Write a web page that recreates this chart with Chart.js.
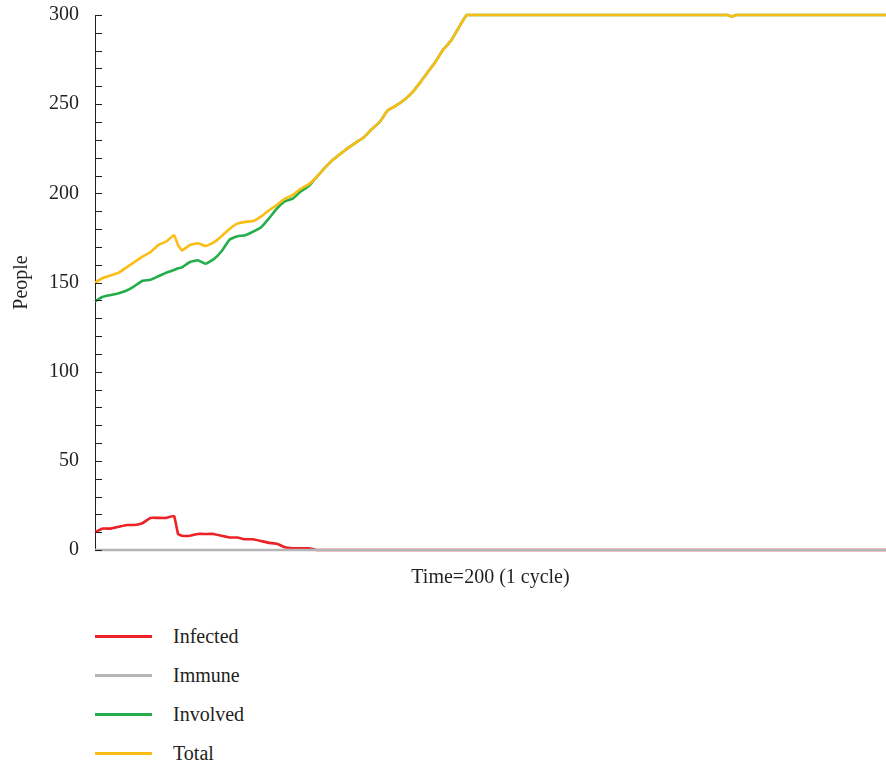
<!DOCTYPE html>
<html>
<head>
<meta charset="utf-8">
<script src="https://cdn.jsdelivr.net/npm/chart.js@4.4.1/dist/chart.umd.min.js"></script>
<style>
    body { margin: 0; background: #fff; overflow: hidden; }
    .wrap { position: relative; width: 886px; height: 769px; overflow: hidden; }
    .chart-box { position: absolute; left: 0; top: -13px; width: 886px; height: 613px; }
    #legend { position: absolute; left: 95px; top: 617px; margin: 0; padding: 0; list-style: none; }
    #legend li { display: flex; align-items: center; height: 39px; font: 20px "Liberation Serif", serif; color: #231f20; }
    #legend .swatch { display: inline-block; width: 57px; height: 3px; margin-right: 21px; }
</style>
</head>
<body>
<div class="wrap">
    <div class="chart-box"><canvas id="simChart"></canvas></div>
    <ul id="legend"></ul>
</div>
<script>
const time = [0, 2, 4, 6, 8, 10, 12, 14, 16, 18, 20, 21, 22, 24, 26, 28, 30, 32, 34, 36, 38, 40, 42, 44, 46, 48,
    50, 52, 54, 56, 58, 60, 62, 64, 66, 68, 70, 72, 74, 76, 78, 80, 82, 84, 86, 88, 90, 92, 94,
    100, 120, 140, 160, 161, 162, 180, 200];
const infected = [10, 12, 12, 13, 14, 14, 15, 18, 18, 18, 19, 9, 8, 8, 9, 9, 9, 8, 7, 7, 6, 6, 5, 4, 3.5, 1.5,
    1, 1, 1, 0, 0, 0, 0, 0, 0, 0, 0, 0, 0, 0, 0, 0, 0, 0, 0, 0, 0, 0, 0,
    0, 0, 0, 0, 0, 0, 0, 0];
const immune = [0, 0, 0, 0, 0, 0, 0, 0, 0, 0, 0, 0, 0, 0, 0, 0, 0, 0, 0, 0, 0, 0, 0, 0, 0, 0,
    0, 0, 0, 0, 0, 0, 0, 0, 0, 0, 0, 0, 0, 0, 0, 0, 0, 0, 0, 0, 0, 0, 0,
    0, 0, 0, 0, 0, 0, 0, 0];
const involved = [139.5, 142, 143, 144, 145.5, 148, 151, 151.5, 153.5, 155.5, 157, 158, 158.5, 161.5, 162.5, 160.5, 163, 167.5, 174, 176, 176.5, 178.5, 181, 186, 191.5, 195.5,
    197, 201, 204, 209, 214, 218.5, 222, 225.5, 228.5, 231.5, 236, 240, 246.5, 249, 252, 256, 261.5, 267.5, 273.5, 280.5, 285.5, 293, 300,
    300, 300, 300, 300, 299, 300, 300, 300];
const total = [150, 152.5, 154, 155.5, 158.5, 161.5, 164.5, 167, 171, 173, 176.5, 171, 168, 171, 172, 170.5, 172.5, 176, 180, 183, 184, 184.5, 187, 190.5, 193.5, 197,
    199, 202.5, 205, 209, 214, 218.5, 222, 225.5, 228.5, 231.5, 236, 240, 246.5, 249, 252, 256, 261.5, 267.5, 273.5, 280.5, 285.5, 293, 300,
    300, 300, 300, 300, 299, 300, 300, 300];

const seriesNames = ['Infected', 'Immune', 'Involved', 'Total'];
const seriesColors = ['#ec2227', '#b5b5b9', '#24ae4b', '#fbbd14'];
const seriesValues = [infected, immune, involved, total];

const textColor = '#231f20';
const serif = '"Liberation Serif", "Times New Roman", serif';

// small inward tick marks on the y axis, every 10 people
const innerTicks = {
    id: 'innerTicks',
    afterDraw(chart) {
        const y = chart.scales.y;
        const ctx = chart.ctx;
        ctx.save();
        ctx.strokeStyle = '#231f20';
        ctx.lineWidth = 1;
        y.ticks.forEach((tick) => {
            const py = Math.round(y.getPixelForValue(tick.value)) + 0.5;
            ctx.beginPath();
            ctx.moveTo(y.right, py);
            ctx.lineTo(y.right + 7, py);
            ctx.stroke();
        });
        ctx.restore();
    },
};

const chart = new Chart(document.getElementById('simChart'), {
    type: 'line',
    data: {
        datasets: seriesNames.map((name, i) => ({
            label: name,
            data: time.map((t, k) => ({ x: t, y: seriesValues[i][k] })),
            borderColor: seriesColors[i],
            backgroundColor: seriesColors[i],
            borderWidth: 2.6,
            pointRadius: 0,
            tension: 0.1,
            clip: 4,
            order: 3 - i,
        })),
    },
    options: {
        responsive: true,
        maintainAspectRatio: false,
        animation: false,
        layout: { padding: { top: 2, left: 6, right: 0, bottom: 6 } },
        plugins: { legend: { display: false }, tooltip: { enabled: false } },
        scales: {
            x: {
                type: 'linear',
                min: 0,
                max: 200,
                grid: { display: false },
                border: { display: false },
                ticks: { display: false },
                title: { display: true, text: 'Time=200 (1 cycle)', color: textColor, font: { family: serif, size: 20 }, padding: 4 },
                afterFit: (scale) => { scale.height = 44; },
            },
            y: {
                min: 0,
                max: 300,
                grid: { display: false, drawTicks: false },
                border: { display: true, color: '#231f20', width: 1 },
                ticks: {
                    stepSize: 10,
                    autoSkip: false,
                    padding: 16,
                    color: textColor,
                    font: { family: serif, size: 20 },
                    callback: (v) => (v % 50 === 0 ? v : ''),
                },
                title: { display: true, text: 'People', color: textColor, font: { family: serif, size: 20 }, padding: 4 },
                afterFit: (scale) => { scale.width = 89; },
            },
        },
    },
    plugins: [innerTicks],
});

const legend = document.getElementById('legend');
chart.data.datasets.forEach((ds) => {
    const li = document.createElement('li');
    const swatch = document.createElement('span');
    swatch.className = 'swatch';
    swatch.style.background = ds.borderColor;
    li.appendChild(swatch);
    li.appendChild(document.createTextNode(ds.label));
    legend.appendChild(li);
});
</script>
</body>
</html>
